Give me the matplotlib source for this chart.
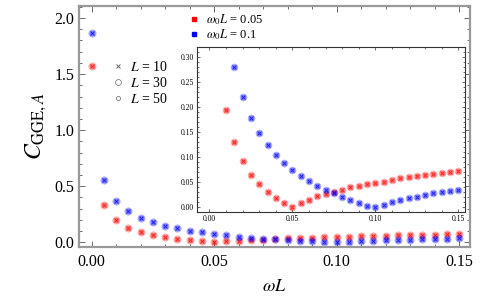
import numpy as np
import matplotlib
matplotlib.use("Agg")
import matplotlib.pyplot as plt
from matplotlib.lines import Line2D
from matplotlib.ticker import MultipleLocator, FormatStrFormatter

plt.rcParams['font.family'] = ['Liberation Serif', 'DejaVu Serif']
plt.rcParams['mathtext.fontset'] = 'stix'

# omega*L grid
omega_L = [0.000, 0.005, 0.010, 0.015, 0.020, 0.025, 0.030, 0.035, 0.040, 0.045,
           0.050, 0.055, 0.060, 0.065, 0.070, 0.075, 0.080, 0.085, 0.090, 0.095,
           0.100, 0.105, 0.110, 0.115, 0.120, 0.125, 0.130, 0.135, 0.140, 0.145,
           0.150]

# omega0 L = 0.05 (red)
c_red = [1.57, 0.33, 0.195, 0.130, 0.0915, 0.064, 0.045, 0.030, 0.018, 0.008,
         0.000, 0.008, 0.014, 0.0205, 0.0245, 0.029, 0.034, 0.0385, 0.042, 0.045,
         0.048, 0.050, 0.054, 0.057, 0.059, 0.0616, 0.0636, 0.0656, 0.0676, 0.0696,
         0.072]

# omega0 L = 0.1 (blue)
c_blue = [1.87, 0.553, 0.366, 0.280, 0.221, 0.179, 0.147, 0.123, 0.104, 0.0875,
          0.074, 0.061, 0.051, 0.042, 0.033, 0.0265, 0.020, 0.0133, 0.0073, 0.002,
          0.000, 0.004, 0.0085, 0.0125, 0.0165, 0.019, 0.0225, 0.027, 0.030, 0.032,
          0.034]

L_values = [10, 30, 50]
w0_labels = [r'$\omega_0 L$ = 0.05', r'$\omega_0 L$ = 0.1']
colors = ['#ff0000', '#0000ff']


def draw_points(ax, x, y, color, scale=1.0):
    # L=30 big disc, L=50 small disc, L=10 cross
    ax.plot(x, y, 'o', ms=5.8 * scale, color=color, alpha=0.33, mec='none')
    ax.plot(x, y, 'o', ms=3.8 * scale, color=color, alpha=0.3, mec='none')
    ax.plot(x, y, 'x', ms=2.5 * scale, color=color, alpha=0.7, mew=0.7)


def style_frame(ax, color, lw, labelsize, major_len, minor_len):
    for s in ax.spines.values():
        s.set_color(color)
        s.set_linewidth(lw)
    ax.tick_params(which='both', direction='in', top=True, right=True,
                   color='#555555', labelsize=labelsize, width=0.6)
    ax.tick_params(which='major', length=major_len)
    ax.tick_params(which='minor', length=minor_len)


fig = plt.figure(figsize=(4.89, 2.97), dpi=100)
ax = fig.add_axes([0.1616, 0.168, 0.7996, 0.812])

for y, c in zip([c_red, c_blue], colors):
    draw_points(ax, omega_L, y, c)

ax.set_xlim(-0.0051, 0.1545)
ax.set_ylim(-0.043, 2.108)
ax.xaxis.set_major_locator(MultipleLocator(0.05))
ax.xaxis.set_minor_locator(MultipleLocator(0.01))
ax.yaxis.set_major_locator(MultipleLocator(0.5))
ax.yaxis.set_minor_locator(MultipleLocator(0.1))
ax.xaxis.set_major_formatter(FormatStrFormatter('%.2f'))
ax.yaxis.set_major_formatter(FormatStrFormatter('%.1f'))
style_frame(ax, '#999999', 1.6, 11.5, 4, 2)
ax.tick_params(axis='x', pad=5)

ax.set_xlabel(r'$\omega L$', fontsize=13, labelpad=6)
ax.set_ylabel(r'$C_{\mathrm{GGE},A}$', fontsize=17, labelpad=4)

# legend for L
L_handles = [
    Line2D([], [], ls='none', marker='x', ms=2.4, mew=0.7, color='#666666'),
    Line2D([], [], ls='none', marker='o', ms=4.2, mfc='none', mew=0.5, color='#666666'),
    Line2D([], [], ls='none', marker='o', ms=3.0, mfc='none', mew=0.5, color='#666666'),
]
leg1 = ax.legend(L_handles, [r'$L$ = %d' % v for v in L_values],
                 loc='upper left', bbox_to_anchor=(0.06, 0.815), frameon=False,
                 fontsize=10, handlelength=0.8, handletextpad=0.5,
                 labelspacing=0.12, borderpad=0.2)
ax.add_artist(leg1)

w_handles = [Line2D([], [], ls='none', marker='s', ms=2.5, color=c) for c in colors]
ax.legend(w_handles, w0_labels, loc='upper left', bbox_to_anchor=(0.26, 1.01),
          frameon=False, fontsize=9, handlelength=0.8, handletextpad=0.5,
          labelspacing=0.0, borderpad=0.2)

# inset
ins = fig.add_axes([197 / 489, 1 - 212 / 297, 268 / 489, 165 / 297])
for y, c in zip([c_red, c_blue], colors):
    draw_points(ins, omega_L, y, c, scale=0.95)
ins.set_xlim(-0.0075, 0.154)
ins.set_ylim(-0.011, 0.321)
ins.xaxis.set_major_locator(MultipleLocator(0.05))
ins.xaxis.set_minor_locator(MultipleLocator(0.01))
ins.yaxis.set_major_locator(MultipleLocator(0.05))
ins.yaxis.set_minor_locator(MultipleLocator(0.01))
ins.xaxis.set_major_formatter(FormatStrFormatter('%.2f'))
ins.yaxis.set_major_formatter(FormatStrFormatter('%.2f'))
style_frame(ins, '#333333', 0.8, 5.5, 2.5, 1.3)
ins.tick_params(pad=2)

fig.savefig('out.png', dpi=100)
